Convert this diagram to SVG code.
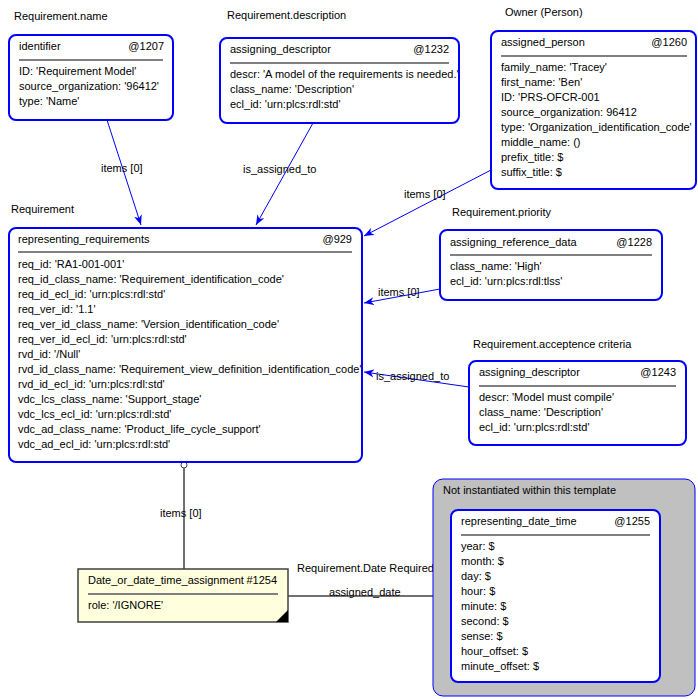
<svg xmlns="http://www.w3.org/2000/svg" width="698" height="699" viewBox="0 0 698 699">
<defs>
<style>
text{font-family:"Liberation Sans",Arial,sans-serif;font-size:11px;fill:#000}
.n{fill:#fff;stroke:#0000ff;stroke-width:2}
.sep{stroke:#808080;stroke-width:2}
.c{stroke:#0000ff;stroke-width:1;fill:none}
.g{stroke:#404040;stroke-width:1.5;fill:none}
</style>
<marker id="a" markerWidth="10" markerHeight="8" refX="10" refY="4" orient="auto" markerUnits="userSpaceOnUse"><path d="M0,0 L10,4 L0,8 L3,4 z" fill="#0000ff"/></marker>
</defs>
<rect width="698" height="699" fill="#fff"/>
<g id="connectors">
<line class="c" x1="107" y1="120" x2="141" y2="225" marker-end="url(#a)"/>
<line class="c" x1="313" y1="123" x2="256" y2="225" marker-end="url(#a)"/>
<line class="c" x1="491" y1="170" x2="364" y2="236" marker-end="url(#a)"/>
<line class="c" x1="440" y1="289" x2="364" y2="303" marker-end="url(#a)"/>
<line class="c" x1="469" y1="387" x2="364" y2="372" marker-end="url(#a)"/>
<line class="g" x1="184" y1="468" x2="184" y2="569"/>
<circle cx="184" cy="465" r="3" fill="#fff" stroke="#404040"/>
<line class="g" x1="288" y1="596" x2="446" y2="596"/>
<circle cx="449" cy="596" r="3" fill="#fff" stroke="#404040"/>
<text x="101" y="172">items [0]</text>
<text x="243" y="173">is_assigned_to</text>
<text x="404" y="198">items [0]</text>
<text x="378" y="296">items [0]</text>
<text x="376" y="380">is_assigned_to</text>
<text x="160" y="517">items [0]</text>
<text x="329" y="596">assigned_date</text>
</g>
<g id="n1207">
<text x="14" y="20">Requirement.name</text>
<rect class="n" x="9" y="35" width="164" height="85" rx="7"/>
<text x="19" y="50">identifier</text><text x="164" y="50" text-anchor="end">@1207</text>
<line class="sep" x1="19" y1="60" x2="163" y2="60"/>
<text x="19" y="75">ID: 'Requirement Model'</text>
<text x="19" y="90">source_organization: '96412'</text>
<text x="19" y="105">type: 'Name'</text>
</g>
<g id="n1232">
<text x="227" y="19">Requirement.description</text>
<rect class="n" x="220" y="38" width="239" height="85" rx="7"/>
<text x="230" y="53">assigning_descriptor</text><text x="449" y="53" text-anchor="end">@1232</text>
<line class="sep" x1="230" y1="63" x2="449" y2="63"/>
<text x="230" y="78">descr: 'A model of the requirements is needed.'</text>
<text x="230" y="93">class_name: 'Description'</text>
<text x="230" y="108">ecl_id: 'urn:plcs:rdl:std'</text>
</g>
<g id="n1260">
<text x="505" y="16">Owner (Person)</text>
<rect class="n" x="491" y="31" width="205" height="158" rx="7"/>
<text x="501" y="46">assigned_person</text><text x="687" y="46" text-anchor="end">@1260</text>
<line class="sep" x1="501" y1="56" x2="687" y2="56"/>
<text x="501" y="71">family_name: 'Tracey'</text>
<text x="501" y="86">first_name: 'Ben'</text>
<text x="501" y="101">ID: 'PRS-OFCR-001</text>
<text x="501" y="116">source_organization: 96412</text>
<text x="501" y="131">type: 'Organization_identification_code'</text>
<text x="501" y="146">middle_name: ()</text>
<text x="501" y="161">prefix_title: $</text>
<text x="501" y="176">suffix_title: $</text>
</g>
<g id="n929">
<text x="11" y="213">Requirement</text>
<rect class="n" x="9" y="228" width="353" height="234" rx="7"/>
<text x="18" y="243">representing_requirements</text><text x="352" y="243" text-anchor="end">@929</text>
<line class="sep" x1="18" y1="252" x2="352" y2="252"/>
<text x="18" y="268">req_id: 'RA1-001-001'</text>
<text x="18" y="283">req_id_class_name: 'Requirement_identification_code'</text>
<text x="18" y="298">req_id_ecl_id: 'urn:plcs:rdl:std'</text>
<text x="18" y="313">req_ver_id: '1.1'</text>
<text x="18" y="328">req_ver_id_class_name: 'Version_identification_code'</text>
<text x="18" y="343">req_ver_id_ecl_id: 'urn:plcs:rdl:std'</text>
<text x="18" y="358">rvd_id: '/Null'</text>
<text x="18" y="373">rvd_id_class_name: 'Requirement_view_definition_identification_code'</text>
<text x="18" y="388">rvd_id_ecl_id: 'urn:plcs:rdl:std'</text>
<text x="18" y="403">vdc_lcs_class_name: 'Support_stage'</text>
<text x="18" y="418">vdc_lcs_ecl_id: 'urn:plcs:rdl:std'</text>
<text x="18" y="433">vdc_ad_class_name: 'Product_life_cycle_support'</text>
<text x="18" y="448">vdc_ad_ecl_id: 'urn:plcs:rdl:std'</text>
</g>
<g id="n1228">
<text x="452" y="216">Requirement.priority</text>
<rect class="n" x="440" y="230" width="222" height="70" rx="7"/>
<text x="450" y="246">assigning_reference_data</text><text x="652" y="246" text-anchor="end">@1228</text>
<line class="sep" x1="450" y1="255" x2="652" y2="255"/>
<text x="450" y="270">class_name: 'High'</text>
<text x="450" y="285">ecl_id: 'urn:plcs:rdl:tlss'</text>
</g>
<g id="n1243">
<text x="473" y="348">Requirement.acceptence criteria</text>
<rect class="n" x="469" y="361" width="217" height="84" rx="7"/>
<text x="479" y="376">assigning_descriptor</text><text x="676" y="376" text-anchor="end">@1243</text>
<line class="sep" x1="479" y1="386" x2="676" y2="386"/>
<text x="479" y="401">descr: 'Model must compile'</text>
<text x="479" y="416">class_name: 'Description'</text>
<text x="479" y="431">ecl_id: 'urn:plcs:rdl:std'</text>
</g>
<g id="n1254">
<text x="297" y="572">Requirement.Date Required</text>
<rect x="78" y="569" width="210" height="53" fill="#ffffdd" stroke="#404040" stroke-width="1.5"/>
<path d="M276,622 L288,610 L288,622 z" fill="#000"/>
<text x="88" y="584">Date_or_date_time_assignment</text><text x="277" y="584" text-anchor="end">#1254</text>
<line class="sep" x1="88" y1="594" x2="278" y2="594"/>
<text x="88" y="609">role: '/IGNORE'</text>
</g>
<g id="container">
<rect x="433" y="479" width="262" height="217" rx="10" fill="#c0c0c0" stroke="#0000ff" stroke-width="1"/>
<text x="443" y="494">Not instantiated within this template</text>
</g>
<g id="n1255">
<rect class="n" x="451" y="510" width="209" height="172" rx="7"/>
<text x="461" y="525">representing_date_time</text><text x="650" y="525" text-anchor="end">@1255</text>
<line class="sep" x1="461" y1="535" x2="650" y2="535"/>
<text x="461" y="550">year: $</text>
<text x="461" y="565">month: $</text>
<text x="461" y="580">day: $</text>
<text x="461" y="595">hour: $</text>
<text x="461" y="610">minute: $</text>
<text x="461" y="625">second: $</text>
<text x="461" y="640">sense: $</text>
<text x="461" y="655">hour_offset: $</text>
<text x="461" y="670">minute_offset: $</text>
</g>
</svg>
